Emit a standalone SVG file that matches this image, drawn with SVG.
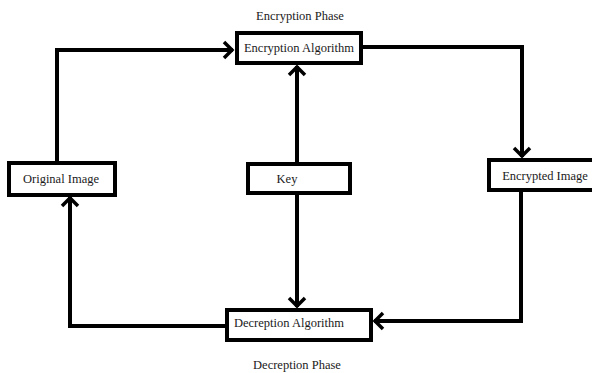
<svg xmlns="http://www.w3.org/2000/svg" width="592" height="373" viewBox="0 0 592 373">
  <style>
    .box { fill: #ffffff; stroke: #000000; stroke-width: 4; }
    .lbl { font-size: 12.5px; fill: #1a1a1a; text-anchor: middle; }
    .conn { fill: none; stroke: #000000; stroke-width: 4; stroke-linejoin: miter; }
  </style>
  <defs>
    <marker id="arr" markerUnits="userSpaceOnUse" viewBox="-12 -10 14 20" refX="0" refY="0" markerWidth="14" markerHeight="20" orient="auto">
      <path d="M-9,-8 L-1,0 L-9,8" fill="none" stroke="#000" stroke-width="3.5"/>
    </marker>
  </defs>
  <rect width="592" height="373" fill="#ffffff"/>

  <g font-family="'Liberation Serif', 'Times New Roman', 'DejaVu Serif', serif">
  <text class="lbl" x="300" y="20">Encryption Phase</text>
  <text class="lbl" x="297" y="369">Decreption Phase</text>

  <g id="connectors">
    <polyline class="conn" points="57,161 57,50 233,50" marker-end="url(#arr)"/>
    <polyline class="conn" points="363,47 522,47 522,157" stroke-width="3.5" marker-end="url(#arr)"/>
    <line class="conn" x1="297" y1="162" x2="297" y2="66" marker-end="url(#arr)"/>
    <line class="conn" x1="297" y1="195" x2="297" y2="307" marker-end="url(#arr)"/>
    <polyline class="conn" points="521,190 521,321 374,321" marker-end="url(#arr)"/>
    <polyline class="conn" points="225,326 70,326 70,197" marker-end="url(#arr)"/>
  </g>

  <g id="encryption-algorithm">
    <rect class="box" x="237" y="33" width="124" height="30"/>
    <text class="lbl" x="299" y="52">Encryption Algorithm</text>
  </g>
  <g id="original-image">
    <rect class="box" x="9" y="163" width="106" height="32"/>
    <text class="lbl" x="61" y="183">Original Image</text>
  </g>
  <g id="key">
    <rect class="box" x="248" y="164" width="102" height="29"/>
    <text class="lbl" x="287" y="183">Key</text>
  </g>
  <g id="encrypted-image">
    <rect class="box" x="489" y="160" width="110" height="30"/>
    <text class="lbl" x="545" y="180">Encrypted Image</text>
  </g>
  <g id="decryption-algorithm">
    <rect class="box" x="227" y="310" width="144" height="30"/>
    <text class="lbl" x="289" y="327">Decreption Algorithm</text>
  </g>
  </g>
</svg>
